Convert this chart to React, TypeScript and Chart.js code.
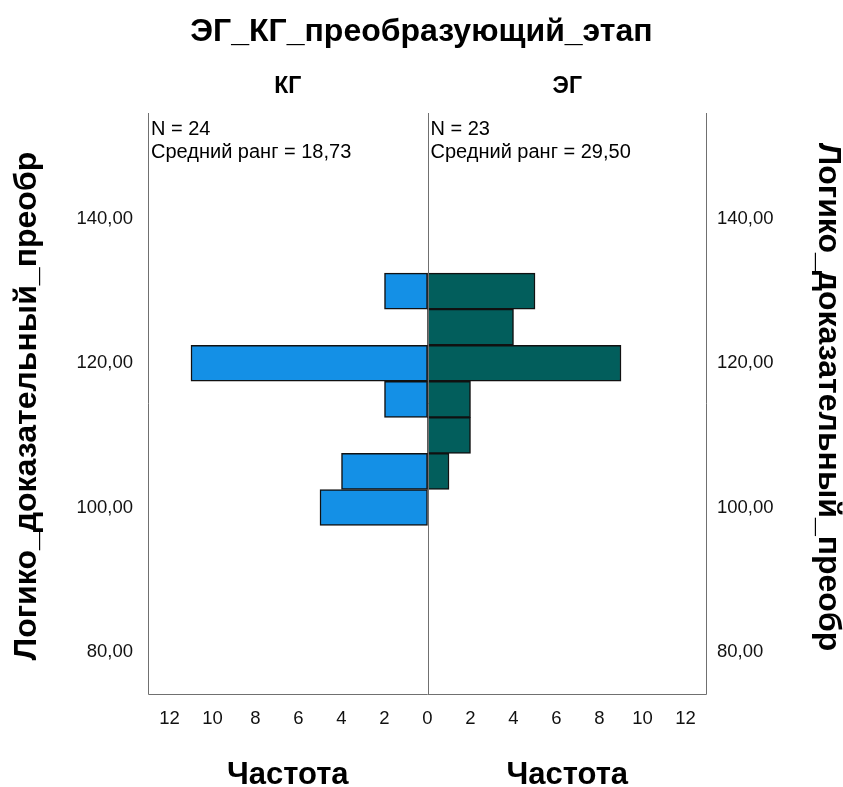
import React, { useEffect, useRef } from "react";
import { Chart, registerables } from "chart.js";

Chart.register(...registerables);

const BINS = [100, 105, 110, 115, 120, 125, 130];
const KG_COUNTS = [5, 4, 0, 2, 11, 0, 2];
const EG_COUNTS = [0, 1, 2, 2, 9, 4, 5];
const X_TICKS = [-12, -10, -8, -6, -4, -2, 0, 2, 4, 6, 8, 10, 12];
const Y_TICKS = [80, 100, 120, 140];
const TITLE = "ЭГ_КГ_преобразующий_этап";
const GROUPS = ["КГ", "ЭГ"];
const GROUP_N = [24, 23];
const GROUP_RANK = ["18,73", "29,50"];
const Y_TITLE = "Логико_доказательный_преобр";
const X_TITLE = "Частота";

const FONT = "'Liberation Sans', Arial, sans-serif";

const overlay = {
  id: "overlay",
  afterDatasetsDraw(chart: any) {
    const { ctx, chartArea } = chart;
    const x0 = Math.round(chart.scales.x.getPixelForValue(0)) + 0.5;
    ctx.save();
    ctx.strokeStyle = "#707070";
    ctx.lineWidth = 1;
    ctx.beginPath();
    const l = Math.round(chartArea.left) + 0.5;
    const r = Math.round(chartArea.right) - 0.5;
    const b = Math.round(chartArea.bottom) - 0.5;
    const t = Math.round(chartArea.top);
    ctx.moveTo(l, t);
    ctx.lineTo(l, b);
    ctx.lineTo(r, b);
    ctx.lineTo(r, t);
    ctx.moveTo(x0, t);
    ctx.lineTo(x0, b);
    ctx.stroke();
    ctx.restore();
  },
  afterDraw(chart: any) {
    const { ctx, chartArea, width } = chart;
    const x0 = chart.scales.x.getPixelForValue(0);
    const centers = [(chartArea.left + x0) / 2, (x0 + chartArea.right) / 2];
    const lefts = [chartArea.left + 3, x0 + 3];
    ctx.save();
    ctx.fillStyle = "#000";
    ctx.textBaseline = "middle";
    ctx.textAlign = "center";
    ctx.font = `bold 32px ${FONT}`;
    ctx.fillText(TITLE, width / 2, 32);
    ctx.font = `bold 23px ${FONT}`;
    GROUPS.forEach((g, i) => ctx.fillText(g, centers[i], 87));
    ctx.font = `bold 31px ${FONT}`;
    centers.forEach((c) => ctx.fillText(X_TITLE, c, 775));
    // y titles
    ctx.font = `bold 32px ${FONT}`;
    ctx.save();
    ctx.translate(27, 406);
    ctx.rotate(-Math.PI / 2);
    ctx.fillText(Y_TITLE, 0, 0);
    ctx.restore();
    ctx.save();
    ctx.translate(828, 397);
    ctx.rotate(Math.PI / 2);
    ctx.fillText(Y_TITLE, 0, 0);
    ctx.restore();
    ctx.textAlign = "left";
    ctx.font = `20px ${FONT}`;
    GROUPS.forEach((g, i) => {
      ctx.fillText(`N = ${GROUP_N[i]}`, lefts[i], 129);
      ctx.fillText(`Средний ранг = ${GROUP_RANK[i]}`, lefts[i], 152);
    });
    ctx.restore();
  },
};

export default function App() {
  const ref = useRef<HTMLCanvasElement>(null);
  useEffect(() => {
    if (!ref.current) return;
    const yTickCb = (v: any) => Number(v).toFixed(2).replace(".", ",");
    const yScale = (pos: string, w: number, pad: number) => ({
      type: "linear",
      position: pos,
      min: 74,
      max: 154.7,
      offset: false,
      grid: { display: false, drawTicks: false, offset: false },
      border: { display: false },
      afterBuildTicks: (s: any) => {
        s.ticks = Y_TICKS.map((v) => ({ value: v }));
      },
      afterFit: (s: any) => {
        s.width = w;
      },
      ticks: { padding: pad, color: "#111", font: { family: FONT, size: 18.5 }, callback: yTickCb },
      title: { display: false },
    });
    const chart = new Chart(ref.current, {
      type: "bar",
      data: {
        datasets: [
          {
            label: GROUPS[0],
            data: BINS.map((b, i) => ({ x: -KG_COUNTS[i], y: b })).filter((d) => d.x !== 0),
            backgroundColor: "#1490E6",
            borderColor: "#111",
            borderWidth: 1.5,
            borderSkipped: false,
            grouped: false,
            barPercentage: 1,
            categoryPercentage: 1,
            xAxisID: "x",
            yAxisID: "y",
          } as any,
          {
            label: GROUPS[1],
            data: BINS.map((b, i) => ({ x: EG_COUNTS[i], y: b })).filter((d) => d.x !== 0),
            backgroundColor: "#025E5C",
            borderColor: "#111",
            borderWidth: 1.5,
            borderSkipped: false,
            grouped: false,
            barPercentage: 1,
            categoryPercentage: 1,
            xAxisID: "x",
            yAxisID: "y",
          } as any,
        ],
      },
      plugins: [overlay],
      options: {
        responsive: false,
        animation: false,
        indexAxis: "y",
        layout: { padding: { top: 113, left: 0, right: 0, bottom: 0 } },
        plugins: { legend: { display: false }, tooltip: { enabled: false }, title: { display: false } },
        scales: {
          x: {
            type: "linear",
            position: "bottom",
            min: -13,
            max: 13,
            grid: { display: false, drawTicks: false },
            border: { display: false },
            afterBuildTicks: (s: any) => {
              s.ticks = X_TICKS.map((v) => ({ value: v }));
            },
            afterFit: (s: any) => {
              s.height = 92;
            },
            ticks: {
              padding: 13,
              color: "#111",
              font: { family: FONT, size: 18.5 },
              callback: (v: any) => String(Math.abs(Number(v))),
              maxRotation: 0,
              autoSkip: false,
            },
          },
          y: yScale("left", 148, 15),
          y2: yScale("right", 136, 10),
        },
      } as any,
    });
    return () => chart.destroy();
  }, []);
  return (
    <div style={{ position: "absolute", left: 0, top: 0, width: 843, height: 787, background: "#fff" }}>
      <canvas ref={ref} width={843} height={787} />
    </div>
  );
}
